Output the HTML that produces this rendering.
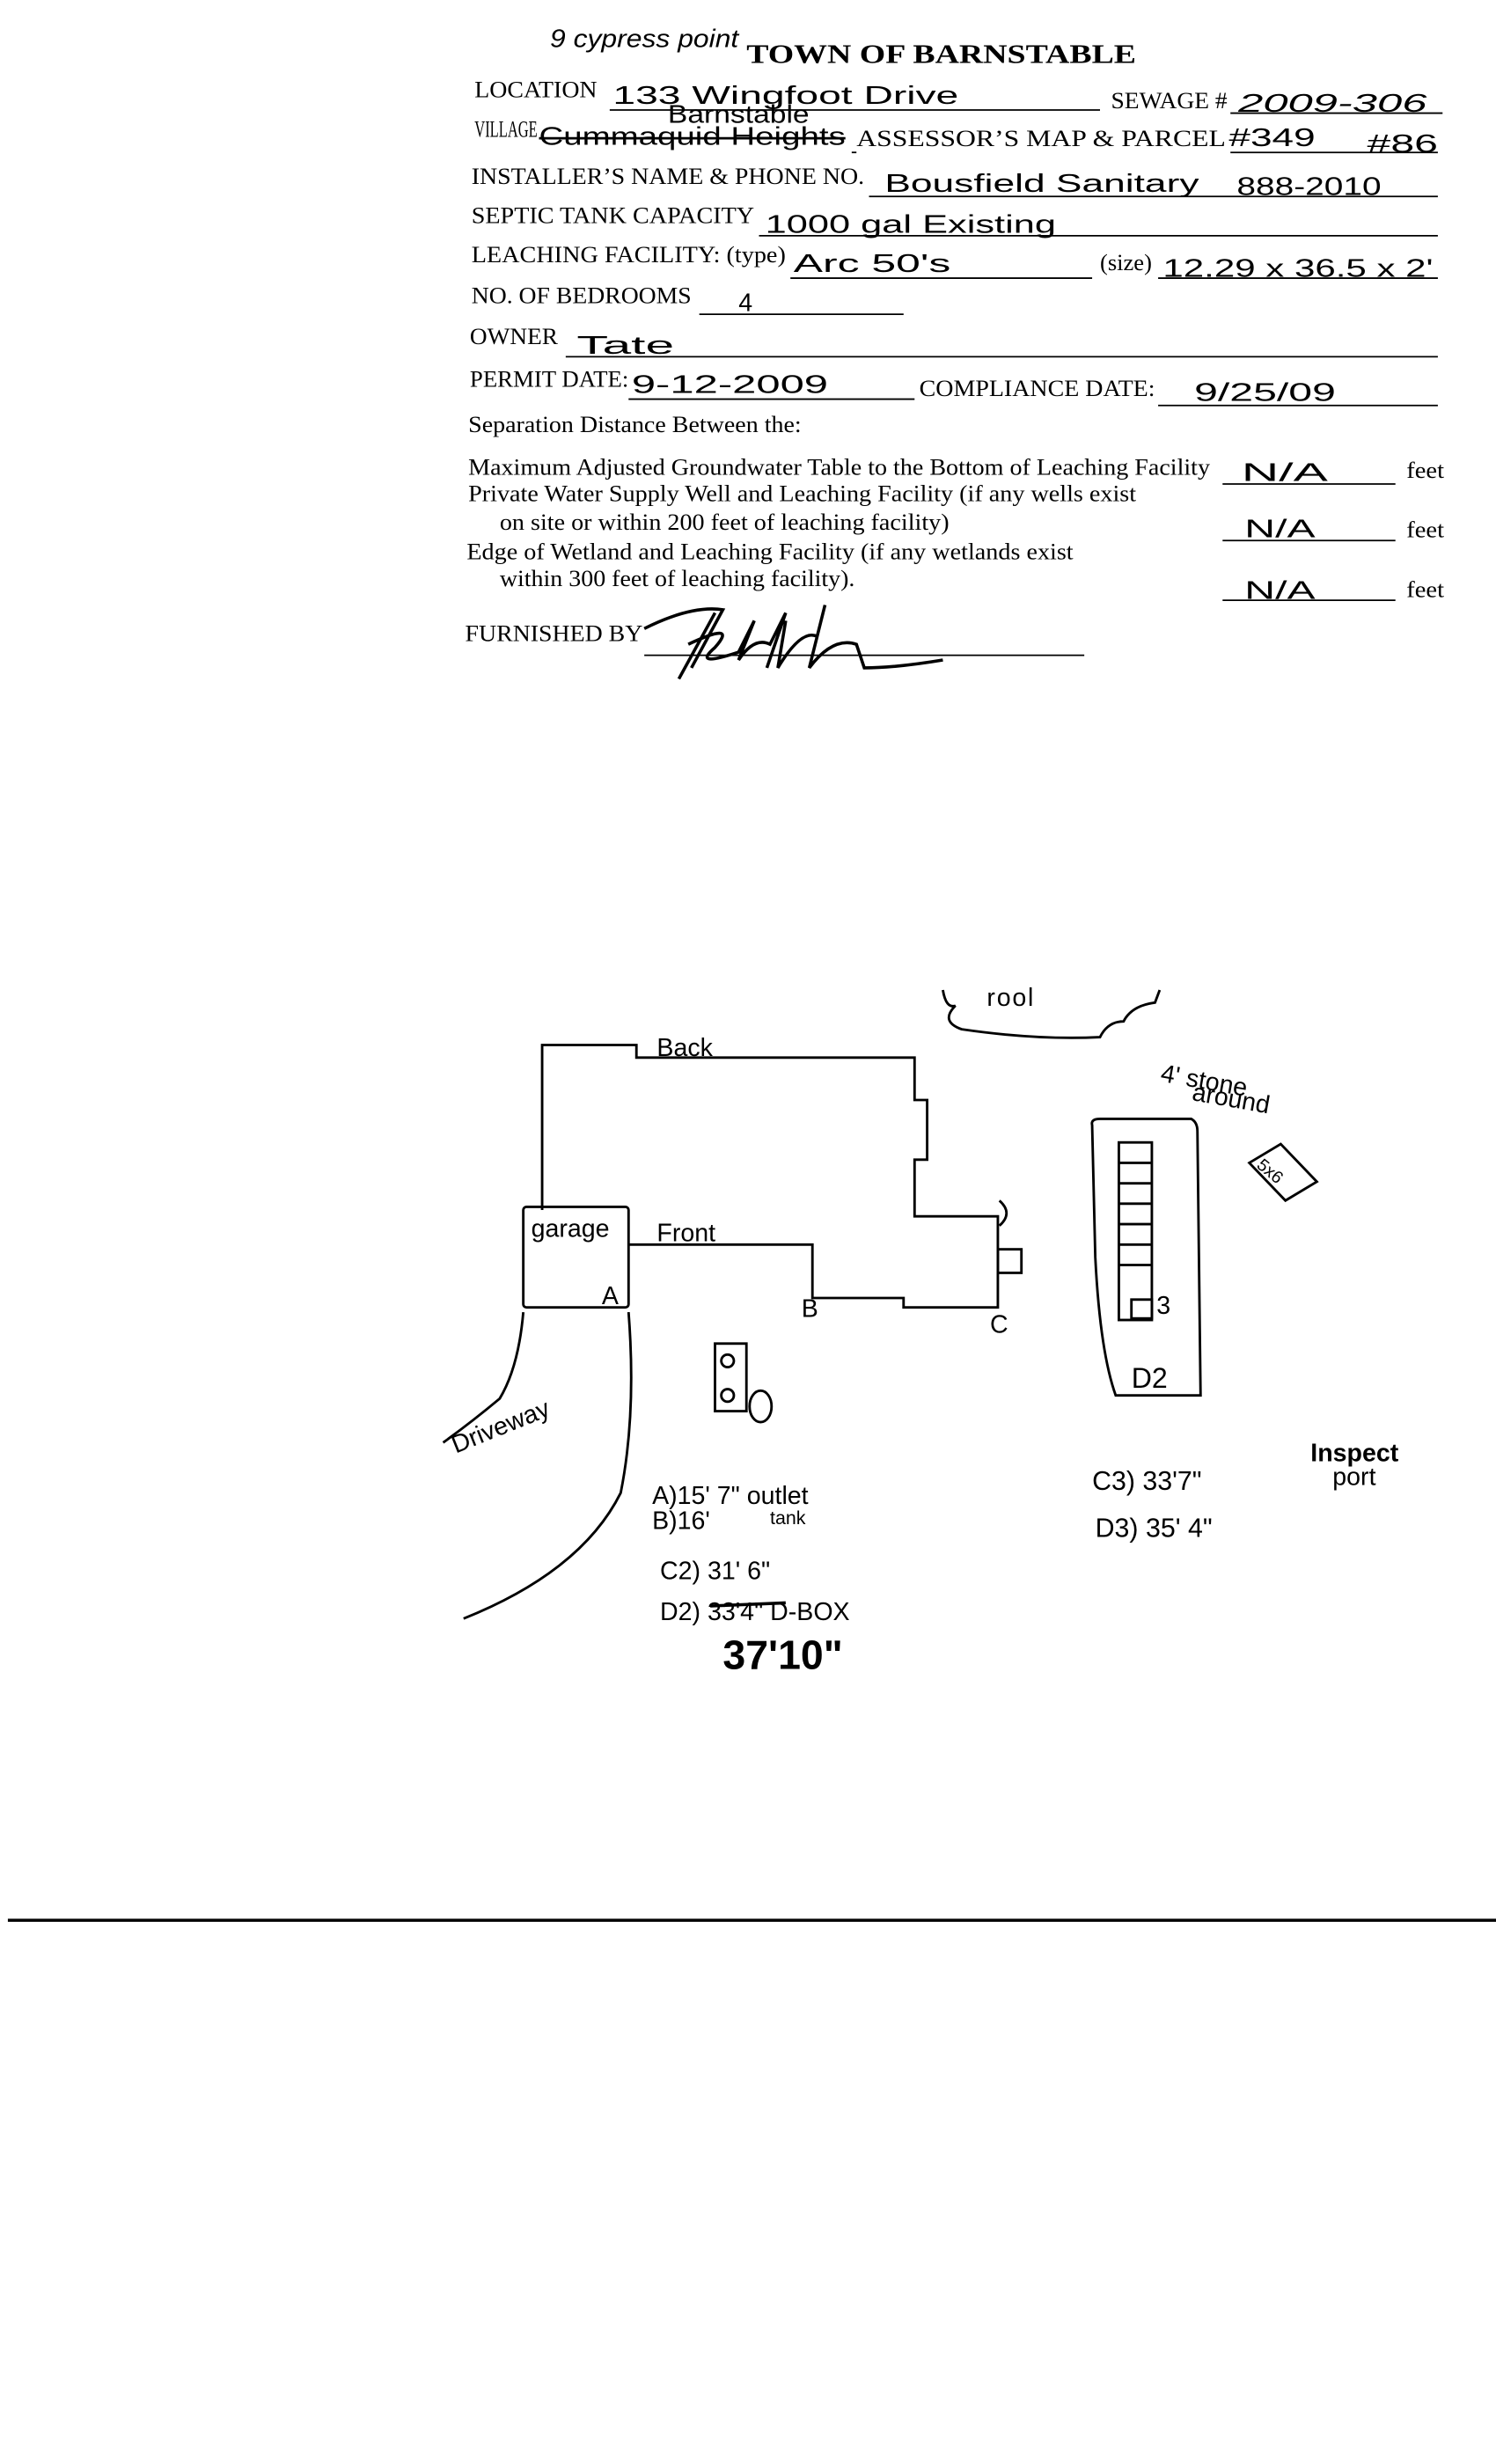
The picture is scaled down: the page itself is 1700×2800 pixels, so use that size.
<!DOCTYPE html>
<html><head><meta charset="utf-8"><style>
html,body{margin:0;padding:0;background:#fff;}
svg{display:block;}
.f{font-family:"Liberation Serif",serif;font-size:14.5px;fill:#000;}
.h{font-family:"Liberation Sans",sans-serif;font-size:16px;fill:#000;}
</style></head><body>
<svg width="1700" height="2800" viewBox="0 0 952 1568" xmlns="http://www.w3.org/2000/svg">
<rect width="952" height="1568" fill="#fff"/>
<g stroke="#000" fill="none" stroke-width="1">
<!-- underlines -->
<line x1="388" y1="70" x2="700" y2="70"/>
<line x1="783" y1="72" x2="918" y2="72"/>
<line x1="545" y1="97" x2="542" y2="97"/>
<line x1="783" y1="97" x2="915" y2="97"/>
<line x1="553" y1="125" x2="915" y2="125"/>
<line x1="483" y1="150" x2="915" y2="150"/>
<line x1="503" y1="177" x2="695" y2="177"/>
<line x1="737" y1="177" x2="915" y2="177"/>
<line x1="445" y1="200" x2="575" y2="200"/>
<line x1="360" y1="227" x2="915" y2="227"/>
<line x1="400" y1="254" x2="582" y2="254"/>
<line x1="737" y1="258" x2="915" y2="258"/>
<line x1="778" y1="308" x2="888" y2="308"/>
<line x1="778" y1="344" x2="888" y2="344"/>
<line x1="778" y1="382" x2="888" y2="382"/>
<line x1="410" y1="417" x2="690" y2="417"/>
</g>
<line x1="5" y1="1222" x2="952" y2="1222" stroke="#000" stroke-width="2"/>

<text x="475" y="40" font-family="Liberation Serif,serif" font-weight="bold" font-size="17" textLength="248" lengthAdjust="spacingAndGlyphs">TOWN OF BARNSTABLE</text>
<text x="350" y="30" class="h" font-style="italic" textLength="120" lengthAdjust="spacingAndGlyphs">9 cypress point</text>

<text x="302" y="62" class="f" textLength="78" lengthAdjust="spacingAndGlyphs">LOCATION</text>
<text x="390" y="66" class="h" textLength="220" lengthAdjust="spacingAndGlyphs">133 Wingfoot  Drive</text>
<text x="707" y="69" class="f" textLength="74" lengthAdjust="spacingAndGlyphs">SEWAGE #</text>
<text x="788" y="71" class="h" font-style="italic" textLength="120" lengthAdjust="spacingAndGlyphs">2009-306</text>

<text x="302" y="87" class="f" textLength="40" lengthAdjust="spacingAndGlyphs">VILLAGE</text>
<text x="425" y="78" class="h" font-size="13" textLength="90" lengthAdjust="spacingAndGlyphs">Barnstable</text>
<text x="343" y="92" class="h" font-size="13" textLength="195" lengthAdjust="spacingAndGlyphs">Cummaquid Heights</text>
<line x1="343" y1="88" x2="538" y2="88" stroke="#000" stroke-width="1.5"/>
<text x="545" y="93" class="f" textLength="235" lengthAdjust="spacingAndGlyphs">ASSESSOR’S MAP &amp; PARCEL</text>
<text x="782" y="93" class="h" textLength="55" lengthAdjust="spacingAndGlyphs">#349</text>
<text x="870" y="97" class="h" textLength="45" lengthAdjust="spacingAndGlyphs">#86</text>

<text x="300" y="117" class="f" textLength="250" lengthAdjust="spacingAndGlyphs">INSTALLER’S NAME &amp; PHONE NO.</text>
<text x="563" y="122" class="h" textLength="200" lengthAdjust="spacingAndGlyphs">Bousfield Sanitary</text>
<text x="787" y="124" class="h" textLength="92" lengthAdjust="spacingAndGlyphs">888-2010</text>

<text x="300" y="142" class="f" textLength="180" lengthAdjust="spacingAndGlyphs">SEPTIC TANK CAPACITY</text>
<text x="487" y="148" class="h" textLength="185" lengthAdjust="spacingAndGlyphs">1000 gal  Existing</text>

<text x="300" y="167" class="f" textLength="200" lengthAdjust="spacingAndGlyphs">LEACHING FACILITY: (type)</text>
<text x="505" y="173" class="h" textLength="100" lengthAdjust="spacingAndGlyphs">Arc 50's</text>
<text x="700" y="172" class="f" textLength="33" lengthAdjust="spacingAndGlyphs">(size)</text>
<text x="740" y="176" class="h" font-size="14" textLength="172" lengthAdjust="spacingAndGlyphs">12.29 x 36.5 x 2'</text>

<text x="300" y="193" class="f" textLength="140" lengthAdjust="spacingAndGlyphs">NO. OF BEDROOMS</text>
<text x="470" y="198" class="h" font-size="18">4</text>

<text x="299" y="219" class="f" textLength="56" lengthAdjust="spacingAndGlyphs">OWNER</text>
<text x="367" y="225" class="h" textLength="62" lengthAdjust="spacingAndGlyphs">Tate</text>

<text x="299" y="246" class="f" textLength="101" lengthAdjust="spacingAndGlyphs">PERMIT DATE:</text>
<text x="402" y="250" class="h" font-size="17" textLength="125" lengthAdjust="spacingAndGlyphs">9-12-2009</text>
<text x="585" y="252" class="f" textLength="150" lengthAdjust="spacingAndGlyphs">COMPLIANCE DATE:</text>
<text x="760" y="255" class="h" font-size="20" textLength="90" lengthAdjust="spacingAndGlyphs">9/25/09</text>

<text x="298" y="275" class="f" textLength="212" lengthAdjust="spacingAndGlyphs">Separation Distance Between the:</text>
<text x="298" y="302" class="f" textLength="472" lengthAdjust="spacingAndGlyphs">Maximum Adjusted Groundwater Table to the Bottom of Leaching Facility</text>
<text x="298" y="319" class="f" textLength="425" lengthAdjust="spacingAndGlyphs">Private Water Supply Well and Leaching Facility (if any wells exist</text>
<text x="318" y="337" class="f" textLength="286" lengthAdjust="spacingAndGlyphs">on site or within 200 feet of leaching facility)</text>
<text x="297" y="356" class="f" textLength="386" lengthAdjust="spacingAndGlyphs">Edge of Wetland and Leaching Facility (if any wetlands exist</text>
<text x="318" y="373" class="f" textLength="226" lengthAdjust="spacingAndGlyphs">within 300 feet of leaching facility).</text>
<text x="790" y="306" class="h" font-size="17" textLength="55" lengthAdjust="spacingAndGlyphs">N/A</text>
<text x="792" y="342" class="h" font-size="17" textLength="45" lengthAdjust="spacingAndGlyphs">N/A</text>
<text x="792" y="381" class="h" font-size="17" textLength="45" lengthAdjust="spacingAndGlyphs">N/A</text>
<text x="895" y="304" class="f" textLength="24" lengthAdjust="spacingAndGlyphs">feet</text>
<text x="895" y="342" class="f" textLength="24" lengthAdjust="spacingAndGlyphs">feet</text>
<text x="895" y="380" class="f" textLength="24" lengthAdjust="spacingAndGlyphs">feet</text>
<text x="296" y="408" class="f" textLength="113" lengthAdjust="spacingAndGlyphs">FURNISHED BY</text>
<!-- signature -->
<path d="M410 400 Q440 385 460 388 L440 425 M455 390 L432 432 M438 410 Q470 395 455 412 Q440 425 470 415 L480 395 L470 420 Q480 405 490 410 L500 390 L488 425 M500 395 L495 425 Q510 400 520 405 L525 385 L515 425 Q530 405 545 410 L550 425 Q570 425 600 420" stroke="#000" stroke-width="2" fill="none"/>

<!-- drawing -->
<g stroke="#000" stroke-width="1.6" fill="none">
<path d="M345 770 L345 665 L405 665 L405 673 L582 673 L582 700 L590 700 L590 738 L582 738 L582 774 L635 774 L635 832 L575 832 L575 826 L517 826 L517 792 L400 792"/>
<rect x="333" y="768" width="67" height="64" rx="2"/>
<rect x="635" y="795" width="15" height="15"/>
<path d="M600 630 Q602 642 608 640 Q598 650 612 655 Q660 662 700 660 Q705 650 715 650 Q720 640 735 638 L738 630"/>
<path d="M333 835 Q330 870 318 890 Q300 905 282 918"/>
<path d="M400 835 Q405 900 395 950 Q370 1000 295 1030"/>
<path d="M695 716 Q694 712 700 712 L758 712 Q762 714 762 720 L764 888 L710 888 Q700 860 697 800 Z"/>
<rect x="712" y="727" width="21" height="113"/>
<path d="M712 740 L733 740 M712 753 L733 753 M712 766 L733 766 M712 779 L733 779 M712 792 L733 792 M712 805 L733 805"/>
<rect x="720" y="827" width="13" height="12"/>
<rect x="455" y="855" width="20" height="43"/>
<circle cx="463" cy="866" r="4"/>
<circle cx="463" cy="888" r="4"/>
<ellipse cx="484" cy="895" rx="7" ry="10"/>
<path d="M795 740 L815 728 L838 752 L818 764 Z"/>
<path d="M636 764 Q645 772 636 780"/>
</g>
<g class="h" font-size="14">
<text x="418" y="672">Back</text>
<text x="338" y="787">garage</text>
<text x="418" y="790">Front</text>
<text x="383" y="830">A</text>
<text x="510" y="838">B</text>
<text x="630" y="848">C</text>
<text x="628" y="640" letter-spacing="1">rool</text>
<text x="738" y="688" transform="rotate(10 738 688)">4' stone</text>
<text x="758" y="700" transform="rotate(10 758 700)">around</text>
<text x="800" y="750" font-size="11" transform="rotate(40 810 745)">5x6</text>
<text x="720" y="883" font-size="18">D2</text>
<text x="736" y="836">3</text>
<text x="290" y="925" transform="rotate(-22 290 925)">Driveway</text>
<text x="415" y="957">A)15' 7"  outlet</text>
<text x="490" y="970" font-size="12">tank</text>
<text x="415" y="973">B)16'</text>
<text x="420" y="1005" font-size="16">C2) 31' 6"</text>
<text x="420" y="1031" font-size="16">D2) 33'4"   D-BOX</text>
<line x1="452" y1="1022" x2="500" y2="1020" stroke="#000" stroke-width="2"/>
<text x="460" y="1062" font-size="26" font-weight="bold">37'10"</text>
<text x="695" y="948" font-size="17">C3) 33'7"</text>
<text x="834" y="930" font-weight="bold">Inspect</text>
<text x="848" y="945">port</text>
<text x="697" y="978" font-size="17">D3) 35' 4"</text>
</g>
</svg>
</body></html>
